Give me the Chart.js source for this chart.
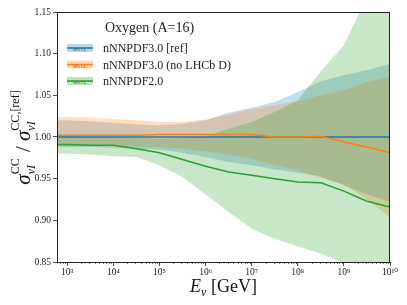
<!DOCTYPE html>
<html>
<head>
<meta charset="utf-8">
<script src="https://cdn.jsdelivr.net/npm/chart.js@4.4.0/dist/chart.umd.min.js"></script>
<style>
html, body { margin: 0; padding: 0; background: #fff; }
</style>
</head>
<body>
<canvas id="myChart" width="407" height="305"></canvas>
<script>
// Neutrino energy grid (GeV)
const energy = [600, 1e3, 3.16e3, 1e4, 3.16e4, 1e5, 3.16e5, 1e6, 3.16e6, 1e7, 3.16e7, 1e8, 3.16e8, 1e9, 3.16e9, 1e10];

// nNNPDF3.0 [ref]
const refCentral = [1.000, 1.000, 1.000, 1.000, 1.000, 1.000, 1.000, 1.000, 1.000, 1.000, 1.000, 1.000, 1.000, 1.000, 1.000, 1.000];
const refUpper = [1.020, 1.020, 1.019, 1.017, 1.015, 1.014, 1.016, 1.020, 1.029, 1.035, 1.042, 1.054, 1.067, 1.074, 1.080, 1.088];
const refLower = [0.988, 0.988, 0.988, 0.987, 0.986, 0.985, 0.981, 0.976, 0.970, 0.966, 0.961, 0.957, 0.953, 0.942, 0.931, 0.922];

// nNNPDF3.0 (no LHCb D)
const noLhcbCentral = [1.002, 1.002, 1.002, 1.002, 1.002, 1.003, 1.003, 1.003, 1.003, 1.003, 1.000, 1.000, 1.001, 0.994, 0.988, 0.981];
const noLhcbUpper = [1.024, 1.024, 1.023, 1.022, 1.020, 1.018, 1.018, 1.021, 1.027, 1.033, 1.038, 1.043, 1.050, 1.056, 1.066, 1.072];
const noLhcbLower = [0.989, 0.989, 0.989, 0.989, 0.989, 0.988, 0.986, 0.983, 0.979, 0.974, 0.966, 0.960, 0.951, 0.943, 0.925, 0.904];

// nNNPDF2.0
const v2Central = [0.991, 0.991, 0.990, 0.990, 0.986, 0.981, 0.973, 0.965, 0.958, 0.954, 0.950, 0.946, 0.945, 0.935, 0.923, 0.916];
const v2Upper = [1.001, 1.001, 1.001, 1.000, 0.999, 0.998, 0.999, 1.001, 1.010, 1.018, 1.030, 1.044, 1.079, 1.110, 1.168, 1.230];
const v2Lower = [0.980, 0.980, 0.979, 0.977, 0.976, 0.966, 0.952, 0.931, 0.910, 0.890, 0.878, 0.869, 0.860, 0.849, 0.838, 0.826];

const seriesNames = ['nNNPDF3.0 [ref]', 'nNNPDF3.0 (no LHCb D)', 'nNNPDF2.0'];
const seriesColors = ['31,119,180', '255,127,14', '44,160,44'];
const legendTitle = 'Oxygen (A=16)';

const xMajorTicks = [1e3, 1e4, 1e5, 1e6, 1e7, 1e8, 1e9, 1e10];
const xTickLabels = ['10³', '10⁴', '10⁵', '10⁶', '10⁷', '10⁸', '10⁹', '10¹⁰'];

const SERIF = '"Liberation Serif", "DejaVu Serif", serif';

const toPoints = (ys) => ys.map((y, i) => ({ x: energy[i], y: y }));

// higher order is drawn first (underneath)
function bandSets(name, color, upper, lower, order) {
    return [{
        label: name + ' upper',
        data: toPoints(upper),
        borderWidth: 0,
        pointRadius: 0,
        backgroundColor: 'rgba(' + color + ',0.26)',
        fill: '+1',
        order: order
    }, {
        label: name + ' lower',
        data: toPoints(lower),
        borderWidth: 0,
        pointRadius: 0,
        fill: false,
        order: order
    }];
}

function lineSet(name, color, ys) {
    return {
        label: name,
        data: toPoints(ys),
        borderColor: 'rgb(' + color + ')',
        borderWidth: 1.5,
        pointRadius: 0,
        fill: false,
        order: 1
    };
}

const datasets = [
    ...bandSets(seriesNames[0], seriesColors[0], refUpper, refLower, 7),
    ...bandSets(seriesNames[1], seriesColors[1], noLhcbUpper, noLhcbLower, 6),
    ...bandSets(seriesNames[2], seriesColors[2], v2Upper, v2Lower, 5),
    lineSet(seriesNames[2], seriesColors[2], v2Central),
    lineSet(seriesNames[1], seriesColors[1], noLhcbCentral),
    lineSet(seriesNames[0], seriesColors[0], refCentral)
];

// Draws sequence of text runs [text, fontSize, italic, dy]
function drawRuns(ctx, runs, x, y) {
    const widths = runs.map(r => {
        ctx.font = (r[2] ? 'italic ' : '') + r[1] + 'px ' + SERIF;
        return ctx.measureText(r[0]).width;
    });
    const total = widths.reduce((a, b) => a + b, 0);
    let cx = x - total / 2;
    runs.forEach((r, i) => {
        ctx.font = (r[2] ? 'italic ' : '') + r[1] + 'px ' + SERIF;
        ctx.fillText(r[0], cx, y + r[3]);
        cx += widths[i];
    });
}

const extras = {
    id: 'extras',
    afterDraw(chart) {
        const { ctx, chartArea: a, scales } = chart;
        const xs = scales.x;
        ctx.save();
        // frame
        ctx.strokeStyle = '#222';
        ctx.lineWidth = 1;
        ctx.strokeRect(a.left + 0.5, a.top + 0.5, a.right - a.left - 1, a.bottom - a.top);

        // minor ticks on x
        ctx.beginPath();
        for (let d = 2; d <= 9; d++) {
            for (let m = 2; m <= 9; m++) {
                const v = m * Math.pow(10, d);
                if (v < xs.min || v > xs.max) continue;
                const px = Math.round(xs.getPixelForValue(v)) + 0.5;
                ctx.moveTo(px, a.bottom);
                ctx.lineTo(px, a.bottom + 2);
            }
        }
        ctx.lineWidth = 0.6;
        ctx.stroke();

        // legend
        ctx.fillStyle = '#222';
        ctx.textBaseline = 'alphabetic';
        ctx.font = '14px ' + SERIF;
        ctx.fillText(legendTitle, 105, 32);
        const rowY = [48, 64.5, 81];
        seriesNames.forEach((name, i) => {
            const cy = rowY[i];
            ctx.fillStyle = 'rgba(' + seriesColors[i] + ',0.3)';
            ctx.fillRect(67, cy - 4, 26, 8);
            ctx.strokeStyle = 'rgb(' + seriesColors[i] + ')';
            ctx.lineWidth = 1.5;
            ctx.beginPath();
            ctx.moveTo(67, cy);
            ctx.lineTo(93, cy);
            ctx.stroke();
            ctx.fillStyle = 'rgba(40,40,40,0.8)';
            ctx.font = '4px ' + SERIF;
            ctx.textAlign = 'center';
            ctx.fillText('68% CL.', 80, cy + 3);
            ctx.textAlign = 'left';
            ctx.fillStyle = '#222';
            ctx.font = '12px ' + SERIF;
            ctx.fillText(name, 103, cy + 4);
        });

        // x-axis title
        ctx.fillStyle = '#111';
        drawRuns(ctx, [
            ['E', 18, true, 0],
            ['ν', 12, true, 4],
            [' [GeV]', 18, false, 0]
        ], (a.left + a.right) / 2, 292);

        // y-axis title (rotated), scripts stacked over each other
        ctx.translate(30, (a.top + a.bottom) / 2);
        ctx.rotate(-Math.PI / 2);
        const runs = [
            ['σ', 21, true, 0],
            ['CC', 12, false, -11, 'stack'],
            ['νI', 12, true, 5],
            [' / ', 21, false, 0],
            ['σ', 21, true, 0],
            ['CC,[ref]', 12, false, -11, 'stack'],
            ['νI', 12, true, 5]
        ];
        let total = 0;
        const pos = [];
        for (let i = 0; i < runs.length; i++) {
            const r = runs[i];
            ctx.font = (r[2] ? 'italic ' : '') + r[1] + 'px ' + SERIF;
            const w = ctx.measureText(r[0]).width;
            if (r[4] === 'stack') {
                const n = runs[i + 1];
                ctx.font = (n[2] ? 'italic ' : '') + n[1] + 'px ' + SERIF;
                const w2 = ctx.measureText(n[0]).width;
                pos.push(total);
                pos.push(total);
                total += Math.max(w, w2) + 1;
                i++;
            } else {
                pos.push(total);
                total += w;
            }
        }
        runs.forEach((r, i) => {
            ctx.font = (r[2] ? 'italic ' : '') + r[1] + 'px ' + SERIF;
            ctx.fillText(r[0], pos[i] - total / 2, r[3]);
        });
        ctx.restore();
    }
};

const ctx = document.getElementById('myChart').getContext('2d');

const myChart = new Chart(ctx, {
    type: 'line',
    data: { datasets: datasets },
    options: {
        responsive: false,
        animation: false,
        devicePixelRatio: 1,
        layout: { padding: { top: 12, right: 17, left: 0, bottom: 0 } },
        plugins: {
            legend: { display: false },
            tooltip: { enabled: false }
        },
        elements: { line: { tension: 0 } },
        scales: {
            x: {
                type: 'logarithmic',
                min: 600,
                max: 1e10,
                afterBuildTicks: (scale) => {
                    scale.ticks = xMajorTicks.map(v => ({ value: v, major: true }));
                },
                afterFit: (scale) => { scale.height = 43; },
                ticks: {
                    autoSkip: false,
                    maxRotation: 0,
                    padding: 1,
                    color: '#222',
                    font: { family: SERIF, size: 9.5 },
                    callback: (v) => {
                        const i = xMajorTicks.indexOf(v);
                        return i >= 0 ? xTickLabels[i] : '';
                    }
                },
                grid: {
                    drawOnChartArea: false,
                    drawTicks: true,
                    tickLength: 4,
                    tickColor: '#222',
                    tickWidth: 0.8
                },
                border: { display: true, color: '#222', width: 1 }
            },
            y: {
                type: 'linear',
                min: 0.85,
                max: 1.15,
                afterFit: (scale) => { scale.width = 57; },
                ticks: {
                    stepSize: 0.05,
                    padding: 2,
                    color: '#222',
                    font: { family: SERIF, size: 9.5 },
                    callback: (v) => Number(v).toFixed(2)
                },
                grid: {
                    drawOnChartArea: false,
                    drawTicks: true,
                    tickLength: 4,
                    tickColor: '#222',
                    tickWidth: 0.8
                },
                border: { display: true, color: '#222', width: 1 }
            }
        }
    },
    plugins: [extras]
});
</script>
</body>
</html>
